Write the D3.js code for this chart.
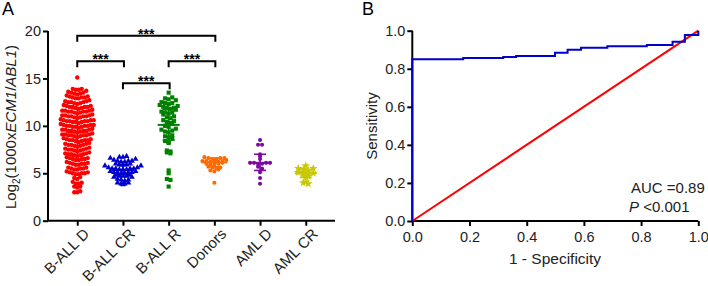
<!DOCTYPE html>
<html>
<head>
<meta charset="utf-8">
<script src="https://cdn.jsdelivr.net/npm/d3@7"></script>
<style>
  body { margin: 0; background: #fff; }
  svg { display: block; font-family: "Liberation Sans", Arial, sans-serif; }
</style>
</head>
<body>
<svg id="chart" width="708" height="286"></svg>
<script>
// ---- panel A data ----
var groups = ["B-ALL D", "B-ALL CR", "B-ALL R", "Donors", "AML D", "AML CR"];
var colors = ["#ff0000", "#0000cc", "#008000", "#ff6a00", "#7a0a9e", "#c8c800"];

var ballD = [15.1,
  13.9, 13.8, 13.8, 13.7, 13.9,
  13.5, 13.4, 13.5, 13.6, 13.3, 13.4,
  13.1, 13.0, 12.9, 13.0, 13.2, 12.9, 13.1, 13.0,
  12.6, 12.5, 12.4, 12.5, 12.6, 12.4, 12.5, 12.7, 12.3,
  12.1, 12.0, 11.9, 12.0, 12.1, 11.9, 12.0, 12.2, 11.8, 12.0,
  11.6, 11.5, 11.4, 11.5, 11.6, 11.4, 11.5, 11.7, 11.3, 11.5, 11.6,
  11.1, 11.0, 10.9, 11.0, 11.1, 10.9, 11.0, 11.2, 10.8, 11.0, 11.1,
  10.6, 10.5, 10.4, 10.5, 10.6, 10.4, 10.5, 10.7, 10.3, 10.5, 10.6, 10.4,
  10.1, 10.0, 9.9, 10.0, 10.1, 9.9, 10.0, 10.2, 9.8, 10.0, 10.1, 9.9,
  9.6, 9.5, 9.4, 9.5, 9.6, 9.4, 9.5, 9.7, 9.3, 9.5, 9.6,
  9.1, 9.0, 8.9, 9.0, 9.1, 8.9, 9.0, 9.2, 8.8, 9.0, 9.1,
  8.6, 8.5, 8.4, 8.5, 8.6, 8.4, 8.5, 8.7, 8.3, 8.5,
  8.1, 8.0, 7.9, 8.0, 8.1, 7.9, 8.0, 8.2, 7.8,
  7.6, 7.5, 7.4, 7.5, 7.6, 7.4, 7.5, 7.7, 7.3,
  7.1, 7.0, 6.9, 7.0, 7.1, 6.9, 7.0, 7.2, 6.8,
  6.6, 6.5, 6.4, 6.5, 6.6, 6.4, 6.5, 6.7,
  6.1, 6.0, 5.9, 6.0, 6.1, 5.9, 6.0, 6.2,
  5.6, 5.5, 5.4, 5.5, 5.6, 5.4, 5.5,
  5.1, 5.0, 4.9, 5.0, 5.1, 4.9, 5.0, 5.2,
  4.6, 4.4, 4.5,
  4.1, 3.9, 4.0, 3.9,
  3.6, 3.5, 3.6,
  3.0, 3.1, 3.0];
var ballCR = [6.8, 6.7, 6.6, 6.7, 6.5,
  6.3, 6.2, 6.4, 6.3, 6.2, 6.3,
  5.9, 5.8, 6.0, 5.9, 5.8, 5.9, 6.0,
  5.5, 5.4, 5.6, 5.5, 5.4, 5.5, 5.6, 5.5, 5.4,
  5.1, 5.0, 5.2, 5.1, 5.0, 5.1, 5.2, 5.1,
  4.7, 4.6, 4.8, 4.7, 4.6, 4.7, 4.8,
  4.4, 4.3, 4.2, 4.3,
  3.9, 4.0, 3.9, 3.8, 4.0];
var ballR = [13.5,
  13.0, 12.9, 12.7, 12.8,
  12.4, 12.3, 12.5, 12.2, 12.4,
  11.9, 11.8, 12.0, 11.7, 11.9, 12.1,
  11.4, 11.3, 11.5, 11.2, 11.4,
  10.9, 10.8, 11.0,
  10.4, 10.3, 10.5, 10.2, 10.6,
  9.9, 9.7, 10.0,
  9.4, 9.3, 9.5, 9.6,
  8.9, 8.8, 9.0, 8.7,
  8.4, 8.3, 8.2,
  7.4, 7.2, 7.1, 7.3,
  5.3, 5.0, 4.3, 4.4, 3.6];
var donors = [6.6, 6.5, 6.6, 6.5, 6.7, 6.6,
  6.3, 6.2, 6.3, 6.2, 6.3, 6.4, 6.2,
  6.0, 5.9, 6.0, 6.1, 5.9,
  5.6, 5.7, 5.5, 5.6,
  5.3, 5.2, 5.4,
  4.0];
var amlD = [8.5, 8.0, 8.0, 7.0, 6.8, 6.5, 6.1, 6.1, 6.0, 6.1, 6.0, 6.1, 5.7, 5.5, 5.1, 4.5, 3.9];
var amlCR = [5.8, 5.5, 5.4, 5.5, 5.3, 5.0, 5.0, 5.1, 4.9, 5.0, 4.6, 4.7, 4.0, 3.9, 4.1];

var groupValues = [ballD, ballCR, ballR, donors, amlD, amlCR];
// mean and error bar ends, as drawn
var errMean = [9.3, 5.35, 10.1, 6.15, 6.1, 5.0];
var errLow = [6.8, 4.85, 8.5, 5.7, 5.3, 4.55];
var errHigh = [11.8, 5.9, 11.7, 6.6, 7.0, 5.4];

var yTicksA = [0, 5, 10, 15, 20];
// significance brackets: [from group, to group, height]
var brackets = [[0, 3, 19.5], [0, 1, 16.8], [2, 3, 16.8], [1, 2, 14.5]];

// ---- panel B data ----
var rocFpr = [0, 0, 0.178, 0.318, 0.363, 0.499, 0.543, 0.59, 0.682, 0.82, 0.91, 0.953, 1.0, 1.0];
var rocTpr = [0, 0.85, 0.857, 0.862, 0.867, 0.884, 0.90, 0.911, 0.918, 0.925, 0.942, 0.977, 0.977, 1.0];
var ticksB = [0, 0.2, 0.4, 0.6, 0.8, 1.0];

var svg = d3.select("#chart");

// ================= Panel A =================
var x = d3.scalePoint().domain(groups).range([48, 335]).padding(0.64);
var y = d3.scaleLinear().domain([0, 20]).range([220.7, 31]);

var gA = svg.append("g");

gA.append("text").attr("x", 2).attr("y", 15).attr("font-size", 18).text("A");

// beeswarm style column layout
function swarm(vals, cx, spacing, binW) {
	var bins = d3.groups(vals, v => Math.round(v / binW));
	var out = [];
	bins.forEach(function (b) {
		var vs = b[1].slice().sort(d3.ascending);
		var n = vs.length;
		// lowest value in the middle, alternate outward
		var slots = [];
		for (var k = 0; k < n; k++) {
			var off = (k % 2 == 0 ? 1 : -1) * Math.ceil(k / 2);
			slots.push(off);
		}
		var shift = (n % 2 == 0) ? 0.5 : 0;
		vs.forEach(function (v, i) {
			out.push({v: v, x: cx + (slots[i] + shift) * spacing});
		});
	});
	return out;
}

var spacing = [3.0, 3.6, 3.6, 4.0, 4.0, 5.0];
var binW = [0.5, 0.4, 0.5, 0.35, 0.4, 0.3];
var shapes = [d3.symbolCircle, d3.symbolTriangle, d3.symbolSquare, d3.symbolCircle, d3.symbolCircle, d3.symbolStar];
var sizes = [15, 15, 17, 13, 13, 24];
var meanHalf = [11, 11, 11, 13, 11, 11];

groupValues.forEach(function (vals, gi) {
	var cx = x(groups[gi]);
	var pts = swarm(vals, cx, spacing[gi], binW[gi]);
	var col = colors[gi];
	var gg = gA.append("g");
	gg.selectAll("path.pt")
		.data(pts)
		.enter()
		.append("path")
			.attr("class", "pt")
			.attr("transform", d => "translate(" + d.x + "," + y(d.v) + ")")
			.attr("d", d3.symbol().type(shapes[gi]).size(sizes[gi]))
			.attr("fill", col);

	// mean +- error bar
	gg.append("line").attr("x1", cx).attr("x2", cx)
		.attr("y1", y(errLow[gi])).attr("y2", y(errHigh[gi]))
		.attr("stroke", col).attr("stroke-width", 1.6);
	gg.append("line").attr("x1", cx - meanHalf[gi]).attr("x2", cx + meanHalf[gi])
		.attr("y1", y(errMean[gi])).attr("y2", y(errMean[gi]))
		.attr("stroke", col).attr("stroke-width", 2);
	[errLow[gi], errHigh[gi]].forEach(function (v) {
		gg.append("line").attr("x1", cx - 6).attr("x2", cx + 6)
			.attr("y1", y(v)).attr("y2", y(v))
			.attr("stroke", col).attr("stroke-width", 1.6);
	});
});

// axes A
var yAxisA = d3.axisLeft(y).tickValues(yTicksA).tickSize(5).tickPadding(2);
var yA = gA.append("g").attr("transform", "translate(48,0)").call(yAxisA);
var xAxisA = d3.axisBottom(x).tickSize(5).tickFormat("");
var xA = gA.append("g").attr("transform", "translate(0,220.7)").call(xAxisA);
[yA, xA].forEach(function (a) {
	a.select(".domain").attr("stroke", "#000").attr("stroke-width", 2);
	a.selectAll(".tick line").attr("stroke", "#000").attr("stroke-width", 2);
	a.selectAll(".tick text").attr("font-size", 14.5).attr("fill", "#222").attr("font-family", null);
});
yA.select(".domain").attr("d", "M0,220.7V31");
xA.select(".domain").attr("d", "M48,0H335");

// rotated category labels
groups.forEach(function (g) {
	gA.append("text")
		.attr("transform", "translate(" + (x(g) + 5) + ",227) rotate(-45)")
		.attr("text-anchor", "end")
		.attr("dy", "0.75em")
		.attr("font-size", 15)
		.attr("fill", "#222")
		.text(g);
});

// y title with subscript and italics
var yt = gA.append("text")
	.attr("transform", "translate(16,127) rotate(-90)")
	.attr("text-anchor", "middle")
	.attr("font-size", 15)
	.attr("fill", "#222");
yt.append("tspan").text("Log");
yt.append("tspan").attr("font-size", 10).attr("dy", 4).text("2");
yt.append("tspan").attr("dy", -4).text("(1000x");
yt.append("tspan").attr("font-style", "italic").text("ECM1");
yt.append("tspan").text("/");
yt.append("tspan").attr("font-style", "italic").text("ABL1");
yt.append("tspan").text(")");

// significance brackets
brackets.forEach(function (b) {
	var x1 = x(groups[b[0]]), x2 = x(groups[b[1]]) + 1, yy = y(b[2]);
	gA.append("path")
		.attr("d", "M" + x1 + "," + (yy + 6) + "V" + yy + "H" + x2 + "V" + (yy + 6))
		.attr("fill", "none").attr("stroke", "#000").attr("stroke-width", 2);
	gA.append("text")
		.attr("x", (x1 + x2) / 2).attr("y", yy + 3)
		.attr("text-anchor", "middle")
		.attr("font-size", 14).attr("font-weight", "bold")
		.text("***");
});

// ================= Panel B =================
var xb = d3.scaleLinear().domain([0, 1]).range([412.3, 698.3]);
var yb = d3.scaleLinear().domain([0, 1]).range([221, 30.7]);
var gB = svg.append("g");

gB.append("text").attr("x", 362).attr("y", 15).attr("font-size", 18).text("B");

var xAxisB = d3.axisBottom(xb).tickValues(ticksB).tickFormat(d3.format(".1f")).tickSize(5).tickPadding(6);
var yAxisB = d3.axisLeft(yb).tickValues(ticksB).tickFormat(d3.format(".1f")).tickSize(5).tickPadding(2);
var xB = gB.append("g").attr("transform", "translate(0,221)").call(xAxisB);
var yB = gB.append("g").attr("transform", "translate(412.3,0)").call(yAxisB);
[xB, yB].forEach(function (a) {
	a.select(".domain").attr("stroke", "#000").attr("stroke-width", 2);
	a.selectAll(".tick line").attr("stroke", "#000").attr("stroke-width", 2);
	a.selectAll(".tick text").attr("font-size", 14.5).attr("fill", "#222").attr("font-family", null);
});
xB.select(".domain").attr("d", "M412.3,0H698.3");
yB.select(".domain").attr("d", "M0,221V30.7");

// reference diagonal
gB.append("line")
	.attr("x1", xb(0)).attr("y1", yb(0)).attr("x2", xb(1)).attr("y2", yb(1))
	.attr("stroke", "#ff0000").attr("stroke-width", 2);

// ROC curve
var rocLine = d3.line()
	.x((d, i) => xb(rocFpr[i]))
	.y((d, i) => yb(rocTpr[i]))
	.curve(d3.curveStepAfter);
gB.append("path")
	.attr("d", rocLine(rocFpr))
	.attr("fill", "none").attr("stroke", "#0000cc").attr("stroke-width", 2);

gB.append("text")
	.attr("transform", "translate(377,126) rotate(-90)")
	.attr("text-anchor", "middle").attr("font-size", 15).attr("fill", "#222")
	.text("Sensitivity");
gB.append("text")
	.attr("x", 555).attr("y", 264)
	.attr("text-anchor", "middle").attr("font-size", 15.5).attr("fill", "#222")
	.text("1 - Specificity");

gB.append("text").attr("x", 631).attr("y", 193).attr("font-size", 15).attr("fill", "#222").text("AUC =0.89");
var pt = gB.append("text").attr("x", 629).attr("y", 212).attr("font-size", 15).attr("fill", "#222");
pt.append("tspan").attr("font-style", "italic").text("P");
pt.append("tspan").text(" <0.001");
</script>
</body>
</html>
